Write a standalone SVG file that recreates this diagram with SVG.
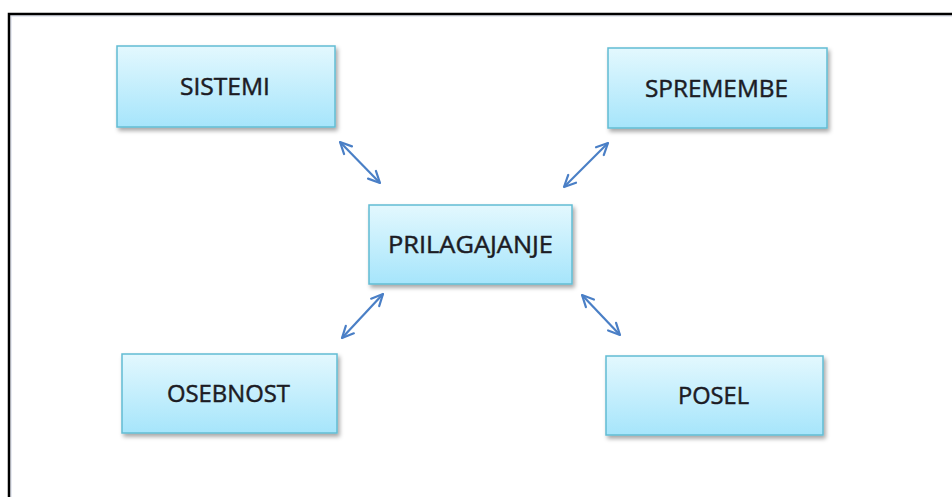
<svg xmlns="http://www.w3.org/2000/svg" width="952" height="497" viewBox="0 0 952 497">
  <defs>
    <linearGradient id="boxFill" x1="0" y1="0" x2="0" y2="1">
      <stop offset="0" stop-color="#e3f8fe"/>
      <stop offset="1" stop-color="#a6e5fb"/>
    </linearGradient>
    <filter id="shadow" x="-10%" y="-10%" width="130%" height="140%">
      <feDropShadow dx="2" dy="3" stdDeviation="2" flood-color="#000" flood-opacity="0.35"/>
    </filter>
    <marker id="head" viewBox="0 0 14 14" refX="13" refY="7" markerWidth="14" markerHeight="14" markerUnits="userSpaceOnUse" orient="auto-start-reverse">
      <path d="M1.5,1.5 L13,7 L1.5,12.5" fill="none" stroke="#4a7fc6" stroke-width="2.2" stroke-linecap="round" stroke-linejoin="round"/>
    </marker>
    <style>
      .box { fill: url(#boxFill); stroke: #62bcd3; stroke-width: 1.5; filter: url(#shadow); }
      .label { font-family: "Open Sans", "Liberation Sans", sans-serif; font-size: 23px; fill: #1c1c24; stroke: #1c1c24; stroke-width: 0.45; text-anchor: middle; }
      .link { stroke: #4a7fc6; stroke-width: 2.2; fill: none; marker-start: url(#head); marker-end: url(#head); }
    </style>
  </defs>

  <rect x="0" y="0" width="952" height="497" fill="#ffffff"/>
  <!-- frame edges -->
  <path d="M11,497 V16 H952" fill="none" stroke="#dfe4ee" stroke-width="1.5"/>
  <path d="M9,497 V14 H952" fill="none" stroke="#000000" stroke-width="2.5"/>

  <g id="connectors">
    <line class="link" x1="340" y1="142" x2="380" y2="183"/>
    <line class="link" x1="608" y1="143" x2="564" y2="187"/>
    <line class="link" x1="383" y1="294" x2="342" y2="338"/>
    <line class="link" x1="582" y1="295" x2="620" y2="335"/>
  </g>

  <g id="sistemi">
    <rect class="box" x="117" y="46" width="218" height="81"/>
    <text class="label" x="225" y="95" textLength="90" lengthAdjust="spacingAndGlyphs">SISTEMI</text>
  </g>

  <g id="spremembe">
    <rect class="box" x="608" y="48" width="219" height="80"/>
    <text class="label" x="716.5" y="97" textLength="143" lengthAdjust="spacingAndGlyphs">SPREMEMBE</text>
  </g>

  <g id="prilagajanje">
    <rect class="box" x="369" y="205" width="203" height="79"/>
    <text class="label" x="470.5" y="253" textLength="165" lengthAdjust="spacingAndGlyphs">PRILAGAJANJE</text>
  </g>

  <g id="osebnost">
    <rect class="box" x="122" y="354" width="215" height="79"/>
    <text class="label" x="228.5" y="402" textLength="123" lengthAdjust="spacingAndGlyphs">OSEBNOST</text>
  </g>

  <g id="posel">
    <rect class="box" x="606" y="356" width="217" height="79"/>
    <text class="label" x="713.5" y="404" textLength="71" lengthAdjust="spacingAndGlyphs">POSEL</text>
  </g>
</svg>
